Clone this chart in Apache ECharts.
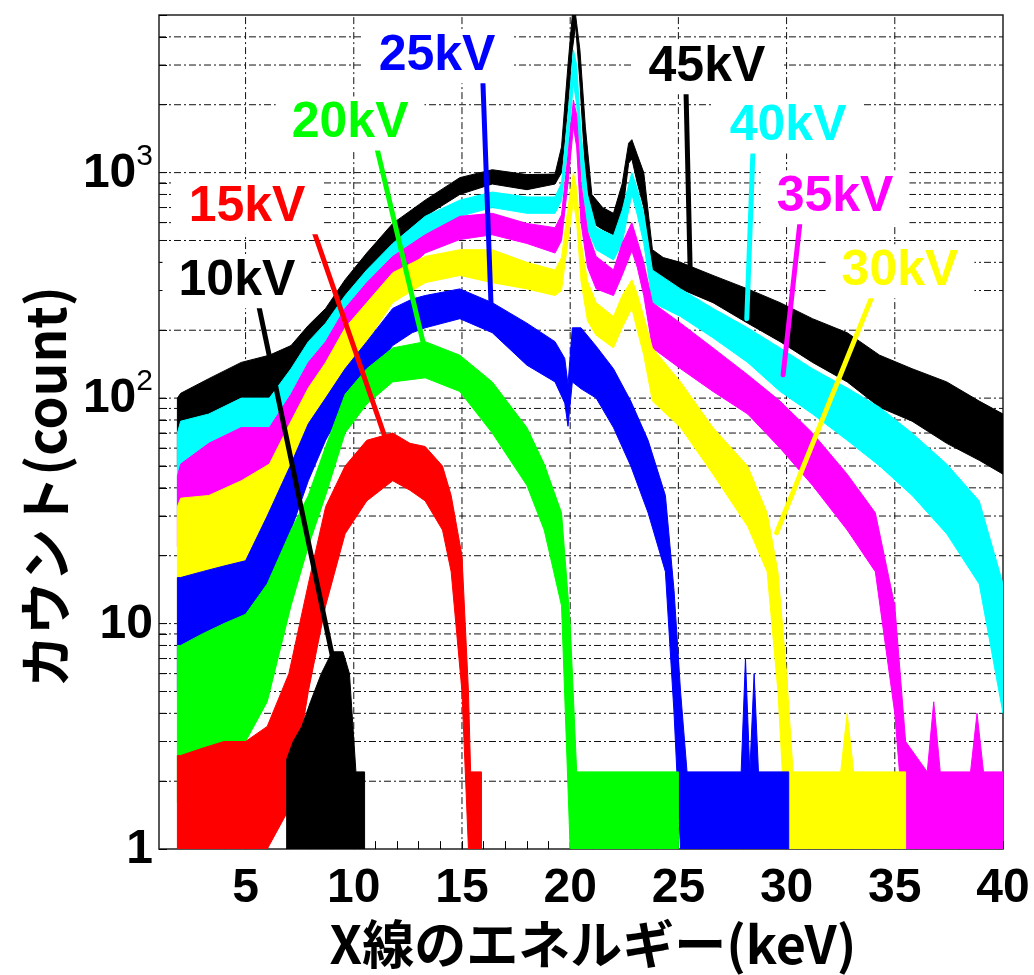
<!DOCTYPE html>
<html><head><meta charset="utf-8">
<script src="https://cdn.jsdelivr.net/npm/echarts@6/dist/echarts.min.js"></script>
<style>html,body{margin:0;padding:0;background:#fff}#c{width:1034px;height:975px}</style>
</head><body><div id="c"></div>
<script>
// ---- axis ticks ----
const xTickLabels = [5, 10, 15, 20, 25, 30, 35, 40];
const yTickLabels = [1, 10, 100, 1000];
const xGridValues = [5, 10, 15, 20, 25, 30, 35];
const yGridValues = [2,3,4,5,6,7,8,9,10,20,30,40,50,60,70,80,90,100,200,300,400,500,600,700,800,900,1000,2000,3000,4000];

// ---- spectra: energy (keV), upper / lower envelope of counts ----
const e45 = [1.85,2,3.3,4.8,6.1,7.1,7.9,8.7,9.6,10.6,11.8,13.3,14.9,16.4,18,19.3,19.6,19.9,20.1,20.25,20.45,20.7,21.0,21.5,22.0,22.4,22.7,22.85,23.1,23.4,23.8,24.3,25.1,26.6,28.2,29.7,31.2,32.8,34.3,35.8,37.4,38.9,40];
const hi45 = [100,105,122,144,155,171,210,250,335,440,595,755,950,1030,980,985,1300,3000,5000,5000,3500,1600,800,700,660,890,1350,1400,1200,1000,455,420,400,350,305,265,225,195,155,135,118,97,85];
const lo45 = [50,55,69,94,100,118,144,190,256,335,485,640,800,890,840,890,1000,2000,3500,4500,2500,1000,600,560,530,640,1100,1150,900,700,360,320,305,265,215,178,144,118,91,79,63,53,46];

const e40 = [1.85,2,3.3,4.8,6.1,7.1,7.9,8.7,9.6,10.6,11.8,13.3,14.9,16.4,18,19.3,19.6,19.9,20.15,20.3,20.5,20.8,21.2,22.0,22.4,22.85,23.1,23.4,23.8,25.1,26.6,28.2,29.7,31.2,32.8,34.3,35.8,37.4,38.9,40];
const hi40 = [70,79,85,100,100,135,178,215,285,370,485,640,755,820,780,780,900,1800,3500,3000,1500,800,570,525,680,1000,850,660,370,305,250,205,167,135,111,91,70,51,35,15];
const lo40 = [30,39,45,61,70,91,118,155,215,285,400,525,640,700,660,660,750,1300,2500,2000,1000,560,455,410,485,800,650,485,265,230,185,144,107,85,65,50,37,25,15,4];

const e35 = [1.85,2,3.3,4.8,6.1,7.1,7.9,8.7,9.6,10.6,11.8,13.3,14.9,16.4,18,19.3,19.6,19.9,20.15,20.3,20.5,20.8,21.2,22.0,22.4,22.85,23.1,23.4,23.8,25.1,26.6,28.2,29.7,31.2,32.8,34.1,35.0,35.5,36.5,36.8,37.1,38.5,38.8,39.1,40];
const hi35 = [45,51,63,74,74,104,144,178,250,325,425,530,640,660,595,570,650,1200,2100,1800,900,550,425,370,485,600,500,400,265,215,167,127,97,70,46,31,12,3,2.2,4.5,2.2,2.2,4,2.2,2.2];
const lo35 = [22,26,31,38,43,65,97,123,171,230,325,440,505,530,485,440,500,900,1600,1300,600,380,305,285,350,450,380,285,167,135,107,85,60,41,26,17,4,1,1,1,1,1,1,1,1];

const e30 = [1.85,2,3.3,4.8,6.1,7.1,7.9,8.7,9.6,10.6,11.8,13.3,14.9,16.4,18,19.3,19.6,19.9,20.15,20.3,20.5,20.8,21.2,22.0,22.4,22.85,23.1,23.4,23.8,25.1,26.6,28.2,29.1,29.6,30.0,30.3,32.5,32.8,33.1,35.5];
const hi30 = [33,36,37,43,51,79,111,144,205,265,360,425,455,455,400,370,420,700,1000,850,500,330,265,230,285,335,290,230,167,118,74,50,31,17,6,2.2,2.2,4,2.2,2.2];
const lo30 = [10,11,12,15,22,46,70,97,135,178,265,325,350,325,305,285,300,500,750,600,330,220,190,167,205,250,200,155,97,74,46,27,17,5,1,1,1,1,1,1];

const e25 = [1.85,2,3,4,5,6,7.1,7.9,8.7,9.6,10.6,11.8,12.7,13.3,14.9,16.4,18,19.3,19.75,19.9,20.1,20.5,21.2,22,22.8,23.6,24.4,24.8,25.1,25.4,27.9,28.1,28.3,28.5,28.7,30.1];
const hi25 = [16,16,17,18,19,30,51,77,100,135,178,250,275,285,305,265,215,178,150,115,205,205,170,135,97,65,37,14,5,2.2,2.2,7,2.2,6,2.2,2.2];
const lo25 = [5,5,5,6,7,10,26,43,65,94,123,171,195,205,225,195,140,118,95,75,118,110,100,74,50,31,17,4,1,1,1,1,1,1,1,1];

const e20 = [1.85,2,3,4,5,6,7.1,7.9,8.7,9.6,10.6,11.8,13.3,14.9,16.4,18,18.8,19.6,20.0,20.3,25.0];
const hi20 = [8,8,9,10,11,15,26,37,61,104,135,167,178,155,118,74,51,31,10,2.2,2.2];
const lo20 = [1.6,1.6,2,2.4,3,4.5,12,22,37,70,94,118,123,107,70,41,26,12,1,1,1];

const e15 = [1.85,2,3,4,5,6,7,7.9,8.7,9.6,10.6,11.8,12.6,13.3,14.1,14.5,15.0,15.3,15.4,15.9];
const hi15 = [2.6,2.6,2.8,3,3,3.5,6,15,33,50,65,70,63,61,50,37,20,5,2.2,2.2];
const lo15 = [1,1,1,1,1,1,1.5,5,12,25,35,43,39,35,26,17,5,1,1,1];

const e10 = [6.9,7.2,7.6,8,8.5,9,9.5,9.8,10.1,10.5];
const hi10 = [2.5,3,3.5,4.5,6,7.5,7.5,6,2.2,2.2];
const lo10 = [1,1,1,1,1,1,1,1,1,1];

// ---- annotation labels and pointer lines (data coordinates) ----
const labelNames = ['10kV','15kV','20kV','25kV','30kV','35kV','40kV','45kV'];
const labelColors = ['#000000','#ff0000','#00ff00','#0000ff','#ffff00','#ff00ff','#00ffff','#000000'];
const labelX = [4.60, 5.07, 9.83, 13.85, 35.24, 32.24, 30.07, 26.32];
const labelY = [330, 702, 1652, 3280, 365, 777, 1603, 2933];
const ptrX1 = [5.62, 8.12, 11.07, 15.97, 33.93, 30.62, 28.44, 25.35];
const ptrY1 = [254, 562, 1285, 2473, 279, 604, 1201, 2350];
const ptrX2 = [9.78, 11.40, 13.29, 16.34, 29.54, 29.84, 28.16, 25.54];
const ptrY2 = [3.2, 69, 163, 264, 25.3, 127, 225, 384];

const bands = [
  {name:'45kV', e:e45, hi:hi45, lo:lo45, color:'#000000'},
  {name:'40kV', e:e40, hi:hi40, lo:lo40, color:'#00ffff'},
  {name:'35kV', e:e35, hi:hi35, lo:lo35, color:'#ff00ff'},
  {name:'30kV', e:e30, hi:hi30, lo:lo30, color:'#ffff00'},
  {name:'25kV', e:e25, hi:hi25, lo:lo25, color:'#0000ff'},
  {name:'20kV', e:e20, hi:hi20, lo:lo20, color:'#00ff00'},
  {name:'15kV', e:e15, hi:hi15, lo:lo15, color:'#ff0000'},
  {name:'10kV', e:e10, hi:hi10, lo:lo10, color:'#000000'}
];

const FONT = '"Liberation Sans", Arial, sans-serif';
const JFONT = '"Noto Sans CJK JP", sans-serif';
const dashDot = [7, 3, 2, 3];

function bandSeries(b) {
  return {
    type: 'custom', name: b.name, z: 3, silent: true, clip: true,
    data: b.e.map((x, i) => [x, b.hi[i], b.lo[i]]),
    encode: {x: 0, y: [1, 2]},
    renderItem: function (params, api) {
      if (params.dataIndex !== 0) return null;
      const pts = [];
      for (let i = 0; i < b.e.length; i++) pts.push(api.coord([b.e[i], b.hi[i]]));
      for (let i = b.e.length - 1; i >= 0; i--) pts.push(api.coord([b.e[i], b.lo[i]]));
      return {type: 'polygon', shape: {points: pts}, style: {fill: b.color, stroke: b.color, lineWidth: 1}};
    }
  };
}

const series = [];
// vertical grid lines
series.push({
  type: 'custom', z: 1, silent: true,
  data: xGridValues.map(v => [v, 1]),
  encode: {x: 0, y: 1},
  renderItem: function (params, api) {
    const v = api.value(0);
    const p1 = api.coord([v, 1]), p2 = api.coord([v, 5000]);
    return {type: 'line', shape: {x1: p1[0], y1: p1[1], x2: p2[0], y2: p2[1]},
      style: {stroke: '#111', lineWidth: 1, lineDash: dashDot}};
  }
});
// horizontal grid lines
series.push({
  type: 'custom', z: 1, silent: true,
  data: yGridValues.map(v => [1, v]),
  encode: {x: 0, y: 1},
  renderItem: function (params, api) {
    const v = api.value(1);
    const p1 = api.coord([1, v]), p2 = api.coord([40, v]);
    return {type: 'line', shape: {x1: p1[0], y1: p1[1], x2: p2[0], y2: p2[1]},
      style: {stroke: '#111', lineWidth: 1, lineDash: dashDot}};
  }
});
bands.forEach(b => series.push(bandSeries(b)));
// pointer lines
series.push({
  type: 'custom', z: 5, silent: true,
  data: ptrX1.map((x, i) => [x, ptrY1[i], ptrX2[i], ptrY2[i]]),
  encode: {x: [0, 2], y: [1, 3]},
  renderItem: function (params, api) {
    const i = params.dataIndex;
    const p1 = api.coord([api.value(0), api.value(1)]);
    const p2 = api.coord([api.value(2), api.value(3)]);
    return {type: 'line', shape: {x1: p1[0], y1: p1[1], x2: p2[0], y2: p2[1]},
      style: {stroke: labelColors[i], lineWidth: 5, lineCap: 'round'}};
  }
});
// labels (white boxed text, drawn through the axes)
series.push({
  type: 'custom', z: 6, silent: true,
  data: labelNames.map((n, i) => [labelX[i], labelY[i]]),
  encode: {x: 0, y: 1},
  renderItem: function (params, api) {
    const i = params.dataIndex;
    const p = api.coord([api.value(0), api.value(1)]);
    return {type: 'text', x: p[0], y: p[1], style: {
      text: labelNames[i], fill: labelColors[i], font: 'bold 50px ' + FONT,
      align: 'center', verticalAlign: 'middle', backgroundColor: '#ffffff', padding: [4, 16, 0, 16]}};
  }
});

const yMinorTicks = [];
[1, 10, 100, 1000].forEach(d => { for (let k = 1; k <= 9; k++) if (d * k <= 5000) yMinorTicks.push(d * k); });
const xMinorTicks = [];
for (let k = 2; k <= 40; k++) xMinorTicks.push(k);

const option = {
  backgroundColor: '#ffffff',
  animation: false,
  grid: {left: 159, top: 15, width: 844, height: 846, show: true, borderColor: '#222', borderWidth: 1.5, backgroundColor: 'transparent'},
  xAxis: {
    type: 'value', min: 1, max: 40,
    name: 'X線のエネルギー(keV)', nameLocation: 'middle', nameGap: 56,
    nameTextStyle: {fontFamily: JFONT, fontSize: 52, fontWeight: 'bold', color: '#000', padding: [0, 0, 0, 24]},
    axisLine: {show: false},
    splitLine: {show: false},
    axisTick: {show: true, inside: true, length: 8, customValues: xMinorTicks, lineStyle: {color: '#000', width: 1}},
    axisLabel: {customValues: xTickLabels, fontFamily: FONT, fontSize: 48, fontWeight: 'bold', color: '#000', margin: 16}
  },
  yAxis: {
    type: 'log', logBase: 10, min: 1, max: 5000,
    name: 'カウント(count)', nameLocation: 'middle', nameGap: 86, nameRotate: 90,
    nameTextStyle: {fontFamily: JFONT, fontSize: 53, fontWeight: 'bold', color: '#000', padding: [0, 110, 0, 0]},
    axisLine: {show: false},
    splitLine: {show: false},
    axisTick: {show: true, inside: true, length: 8, customValues: yMinorTicks, lineStyle: {color: '#000', width: 1}},
    axisLabel: {
      customValues: yTickLabels, margin: 6, color: '#000',
      formatter: function (v) {
        if (v < 50) return '{b|' + Math.round(v) + '}';
        return '{b|10}{s|' + Math.round(Math.log10(v)) + '}';
      },
      rich: {
        b: {fontFamily: FONT, fontSize: 48, fontWeight: 'bold', color: '#000', verticalAlign: 'bottom', lineHeight: 50},
        s: {fontFamily: FONT, fontSize: 30, color: '#000', verticalAlign: 'bottom', padding: [0, 0, 26, 0], lineHeight: 30}
      }
    }
  },
  series: series
};

const chart = echarts.init(document.getElementById('c'), null, {renderer: 'canvas'});
chart.setOption(option);
</script>
</body></html>
